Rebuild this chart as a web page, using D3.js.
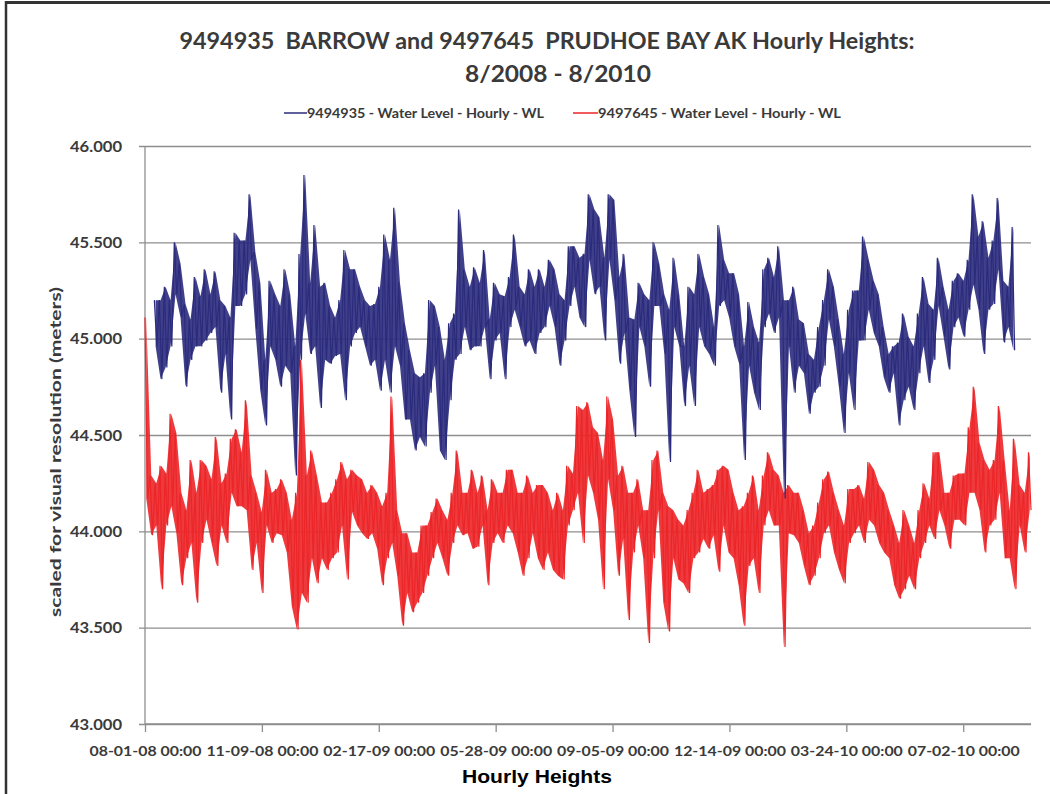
<!DOCTYPE html>
<html>
<head>
<meta charset="utf-8">
<script src="https://cdn.jsdelivr.net/npm/d3@7"></script>
<style>
  html, body { margin: 0; padding: 0; background: #fff; }
  svg { display: block; }
</style>
</head>
<body>
<svg id="chart" width="1050" height="794"></svg>
<script>
// ---------------- DATA ----------------
const titleLines = ["9494935  BARROW and 9497645  PRUDHOE BAY AK Hourly Heights:", "8/2008 - 8/2010"];
const seriesNames = ["9494935 - Water Level - Hourly - WL", "9497645 - Water Level - Hourly - WL"];
const xTickLabels = ["08-01-08 00:00", "11-09-08 00:00", "02-17-09 00:00", "05-28-09 00:00",
                     "09-05-09 00:00", "12-14-09 00:00", "03-24-10 00:00", "07-02-10 00:00"];
const yTickValues = [43.0, 43.5, 44.0, 44.5, 45.0, 45.5, 46.0];
const xAxisTitle = "Hourly Heights";
const yAxisTitle = "scaled for visual resolution (meters)";
const axisStart = "08-01-08 00:00";
const axisEnd = "08-29-10 00:00";

// 9494935 Barrow: per-interval high / low of the hourly heights
const blueStart = "08-09-08 00:00";
const blueEnd = "08-15-10 00:00";
const blueHigh = [
  45.20,45.20,45.27,45.20,45.50,45.39,45.18,45.10,45.32,45.22,45.36,45.23,45.35,45.20,45.17,45.11,45.55,45.51,45.51,45.75,45.45,45.29,44.89,45.30,45.23,45.17,45.36,45.23,44.96,
  45.44,45.85,45.29,45.59,45.27,45.29,45.17,45.11,45.20,45.46,45.36,45.36,45.27,45.20,45.17,45.18,45.27,45.54,45.41,45.68,45.29,45.08,44.94,44.82,44.80,44.82,45.20,45.17,45.06,44.89,
  45.08,45.13,45.67,45.36,45.27,45.37,45.29,45.46,45.10,45.29,45.23,45.22,45.32,45.54,45.27,45.23,45.36,45.27,45.36,45.27,45.41,45.36,45.23,45.20,45.48,45.48,45.42,45.44,45.75,45.67,
  45.63,45.42,45.75,45.72,45.32,45.44,45.11,45.10,45.29,45.23,45.20,45.50,45.39,45.23,45.15,45.42,45.23,44.96,45.27,45.23,45.44,45.32,45.23,45.06,45.59,45.41,45.34,45.34,45.23,44.96,
  45.19,45.06,44.98,45.36,45.42,45.32,45.48,45.20,45.20,45.27,45.10,45.08,44.92,44.89,45.06,45.20,45.36,45.27,45.10,44.92,45.15,45.25,45.25,45.53,45.41,45.30,45.23,45.06,44.92,44.96,
  44.98,45.13,45.01,44.96,45.13,45.32,45.18,45.15,45.42,45.27,45.15,45.30,45.34,45.30,45.41,45.75,45.53,45.61,45.42,45.51,45.73,45.30,45.27,45.58
];
const blueLow = [
  44.96,44.79,44.85,44.96,45.23,45.11,44.75,44.89,44.96,44.96,44.99,45.03,45.06,44.72,44.92,44.58,45.17,45.17,45.23,45.41,45.05,44.73,44.55,44.96,44.89,44.75,44.86,44.82,44.29,
  44.89,45.13,44.92,44.96,44.64,44.89,44.87,44.91,44.92,44.68,44.96,45.03,45.06,44.96,44.86,44.89,44.73,44.89,44.72,44.96,44.86,44.58,44.58,44.42,44.49,44.44,44.72,44.86,44.42,44.37,
  44.68,44.89,44.92,45.06,44.94,44.96,44.96,45.06,44.79,44.99,45.03,44.79,45.06,45.15,45.06,44.96,44.99,44.92,45.03,45.06,45.17,45.06,44.86,44.99,45.17,45.27,45.11,45.06,45.41,45.23,
  45.27,44.99,45.41,45.20,44.87,45.03,44.73,44.49,45.06,44.96,44.75,45.17,45.17,44.92,44.36,45.06,44.96,44.65,44.86,44.65,45.06,44.96,44.92,44.86,45.17,45.20,45.11,44.96,44.87,44.37,
  44.86,44.72,44.63,45.06,45.13,45.03,45.11,44.17,44.96,44.72,44.86,44.82,44.61,44.72,44.75,44.86,45.10,44.96,44.75,44.51,44.82,44.63,44.99,44.99,45.15,45.03,44.96,44.80,44.72,44.82,
  44.55,44.68,44.75,44.63,44.82,44.96,44.77,44.89,45.17,45.01,44.84,45.06,45.11,45.01,45.15,45.28,45.15,44.92,45.15,45.18,45.36,44.98,45.06,44.94
];

// 9497645 Prudhoe Bay: per-interval high / low of the hourly heights
const redStart = "08-01-08 00:00";
const redEnd = "08-29-10 00:00";
const redHigh = [
  45.11,44.29,44.25,44.34,44.30,44.61,44.51,44.20,44.11,44.37,44.20,44.37,44.34,44.27,44.49,44.25,44.30,44.48,44.53,44.41,44.68,44.29,44.20,44.10,44.32,44.20,44.22,44.27,44.20,44.06,
  44.20,44.89,44.29,44.42,44.29,44.15,44.15,44.20,44.27,44.36,44.27,44.32,44.29,44.27,44.20,44.24,44.20,44.13,44.20,44.70,44.11,43.99,43.99,43.89,43.89,44.03,44.03,44.10,44.17,44.11,
  44.06,44.20,44.42,44.20,44.20,44.32,44.20,44.29,44.11,44.27,44.20,44.20,44.32,44.32,44.20,44.20,44.29,44.20,44.24,44.24,44.20,44.11,44.20,44.11,44.34,44.30,44.65,44.63,44.67,44.54,
  44.51,44.37,44.70,44.58,44.29,44.34,44.20,44.20,44.27,44.11,44.11,44.37,44.42,44.20,44.13,44.11,44.06,44.03,44.11,44.20,44.32,44.20,44.22,44.24,44.32,44.34,44.32,44.20,44.11,44.13,
  44.20,44.29,44.11,44.29,44.41,44.32,44.29,44.20,44.24,44.20,44.20,44.11,43.99,44.03,44.15,44.27,44.31,44.20,44.11,44.03,44.22,44.22,44.24,44.17,44.36,44.32,44.24,44.20,44.11,44.03,
  43.94,44.11,44.03,43.94,44.11,44.25,44.17,44.41,44.41,44.20,44.20,44.29,44.30,44.30,44.54,44.75,44.46,44.37,44.32,44.37,44.65,44.37,44.11,44.48,44.24,44.20,44.41
];
const redLow = [
  44.17,43.98,44.03,43.70,44.03,44.13,43.99,43.72,43.86,43.94,43.63,43.94,44.06,43.94,43.82,44.03,43.94,44.20,44.13,44.13,44.11,43.80,43.94,43.68,44.03,43.94,43.99,43.98,43.89,43.61,
  43.49,43.68,43.63,43.86,43.73,43.86,43.80,43.86,43.89,44.03,43.75,44.10,44.03,43.99,43.96,43.99,43.91,43.72,43.86,43.94,43.77,43.51,43.68,43.58,43.63,43.68,43.77,43.86,43.94,43.86,
  43.77,43.94,44.03,43.98,43.99,43.91,43.92,44.03,43.72,43.94,43.99,43.94,44.03,43.99,43.89,43.77,43.86,43.99,43.86,43.80,43.89,43.80,43.77,43.75,44.03,44.11,44.20,43.94,44.29,44.20,
  44.06,43.70,44.27,44.11,43.77,43.96,43.54,43.89,44.03,43.86,43.42,43.86,44.11,43.63,43.48,43.86,43.75,43.73,43.68,43.86,43.89,43.96,43.91,43.98,43.79,44.03,43.89,43.86,43.72,43.51,
  43.82,43.86,43.68,44.03,44.11,44.03,44.03,43.40,43.99,43.98,43.94,43.82,43.72,43.77,43.86,43.99,44.03,43.89,43.80,43.73,43.94,43.99,44.03,43.94,44.06,44.03,43.94,43.89,43.86,43.72,
  43.65,43.70,43.77,43.70,43.86,43.94,44.03,43.96,44.11,44.03,43.91,44.06,44.06,44.03,44.20,44.20,44.11,43.89,44.03,44.06,44.20,43.86,43.86,43.70,44.03,43.89,44.11
];

// ---------------- DRAWING ----------------
const parse = d3.utcParse("%m-%d-%y %H:%M");
const svg = d3.select("#chart");
const plot = { left: 145, right: 1031, top: 146, bottom: 724 };

const x = d3.scaleUtc().domain([parse(axisStart), parse(axisEnd)]).range([plot.left, plot.right]);
const y = d3.scaleLinear().domain([43, 46]).range([plot.bottom, plot.top]);

const labelFont = "Lato, 'Open Sans', 'DejaVu Sans', sans-serif";
const textColor = "#3a3a3a";
const gridColor = "#8e8e8e";

// outer frame (top and left edges visible)
svg.append("line").attr("x1", 5).attr("x2", 1050).attr("y1", 2.5).attr("y2", 2.5)
  .attr("stroke", "#333").attr("stroke-width", 3);
svg.append("line").attr("x1", 6).attr("x2", 6).attr("y1", 1).attr("y2", 794)
  .attr("stroke", "#333").attr("stroke-width", 2.5);

// horizontal gridlines + y axis
const yAxis = d3.axisLeft(y).tickValues(yTickValues).tickFormat(d3.format(".3f"))
  .tickSize(-(plot.right - plot.left)).tickPadding(0);
const gy = svg.append("g").attr("transform", `translate(${plot.left},0)`).call(yAxis);
gy.select(".domain").remove();
gy.selectAll(".tick line").attr("stroke", gridColor).attr("stroke-width", 1.3).attr("x1", -6);
gy.selectAll(".tick text")
  .attr("x", -23).attr("dy", "0.35em")
  .attr("font-family", labelFont).attr("font-weight", "bold").attr("font-size", 15)
  .attr("fill", textColor).attr("text-anchor", "end")
  .attr("textLength", 52).attr("lengthAdjust", "spacingAndGlyphs");

// vertical axis line
svg.append("line").attr("x1", plot.left).attr("x2", plot.left)
  .attr("y1", plot.top).attr("y2", plot.bottom)
  .attr("stroke", gridColor).attr("stroke-width", 1.3);

// x axis
const xTicks = xTickLabels.map(parse);
const xAxis = d3.axisBottom(x).tickValues(xTicks)
  .tickFormat((d, i) => xTickLabels[i]).tickSize(8).tickSizeOuter(0);
const gx = svg.append("g").attr("transform", `translate(0,${plot.bottom})`).call(xAxis);
gx.select(".domain").attr("stroke", gridColor).attr("stroke-width", 1.3)
  .attr("d", `M${plot.left},0H${plot.right}`);
gx.selectAll(".tick line").attr("stroke", gridColor).attr("stroke-width", 1.3);
gx.selectAll(".tick text")
  .attr("y", 32).attr("dy", 0)
  .attr("font-family", labelFont).attr("font-weight", "bold").attr("font-size", 14)
  .attr("fill", textColor)
  .attr("textLength", 112).attr("lengthAdjust", "spacingAndGlyphs");

// series: each interval's high/low drawn as a dense band with the hourly zigzag on top
function build(high, low, start, end) {
  const t0 = parse(start).getTime(), t1 = parse(end).getTime();
  const n = high.length * 2 - 1;
  const zig = [], band = [];
  high.forEach((h, i) => {
    zig.push({ t: new Date(t0 + (t1 - t0) * (2 * i) / n), v: h });
    zig.push({ t: new Date(t0 + (t1 - t0) * (2 * i + 1) / n), v: low[i] });
    band.push({ t: new Date(t0 + (t1 - t0) * (2 * i + 0.5) / n), hi: h, lo: low[i] });
  });
  return { zig, band };
}
const line = d3.line().x(d => x(d.t)).y(d => y(d.v));
const area = d3.area().x(d => x(d.t)).y0(d => y(d.lo)).y1(d => y(d.hi));
const series = [
  { name: seriesNames[1], color: "#ec2528", ...build(redHigh, redLow, redStart, redEnd) },
  { name: seriesNames[0], color: "#2b2b7d", ...build(blueHigh, blueLow, blueStart, blueEnd) }
];
const sg = svg.append("g").selectAll("g").data(series).join("g");
sg.append("path")
  .attr("d", d => area(d.band))
  .attr("fill", d => d.color).attr("fill-opacity", 0.9).attr("stroke", "none");
sg.append("path")
  .attr("d", d => line(d.zig))
  .attr("fill", "none").attr("stroke", d => d.color).attr("stroke-width", 1.2);

// titles
const title = svg.append("g").attr("font-family", labelFont).attr("font-weight", "bold")
  .attr("fill", textColor).attr("text-anchor", "middle");
title.append("text").attr("x", 547).attr("y", 49).attr("font-size", 23)
  .style("white-space", "pre").attr("textLength", 735).attr("lengthAdjust", "spacingAndGlyphs")
  .text(titleLines[0]);
title.append("text").attr("x", 558).attr("y", 82).attr("font-size", 23)
  .attr("textLength", 186).attr("lengthAdjust", "spacingAndGlyphs")
  .text(titleLines[1]);

// legend
const legend = [
  { name: seriesNames[0], color: "#2b2b7d", x0: 284, x1: 307, tl: 237 },
  { name: seriesNames[1], color: "#ec2528", x0: 573, x1: 598, tl: 243 }
];
const lg = svg.append("g");
legend.forEach(l => {
  lg.append("line").attr("x1", l.x0).attr("x2", l.x1).attr("y1", 113).attr("y2", 113)
    .attr("stroke", l.color).attr("stroke-width", 1.5);
  lg.append("text").attr("x", l.x1).attr("y", 118)
    .attr("font-family", labelFont).attr("font-weight", "bold").attr("font-size", 13)
    .attr("fill", textColor).attr("textLength", l.tl).attr("lengthAdjust", "spacingAndGlyphs")
    .text(l.name);
});

// axis titles
svg.append("text").attr("x", 537).attr("y", 783).attr("text-anchor", "middle")
  .attr("font-family", "'Liberation Sans', Arial, sans-serif").attr("font-weight", "bold")
  .attr("font-size", 19).attr("fill", "#000")
  .attr("textLength", 150).attr("lengthAdjust", "spacingAndGlyphs")
  .text(xAxisTitle);
svg.append("text").attr("transform", "translate(61,452) rotate(-90)").attr("text-anchor", "middle")
  .attr("font-family", labelFont).attr("font-weight", "bold").attr("font-size", 15)
  .attr("fill", textColor).attr("textLength", 330).attr("lengthAdjust", "spacingAndGlyphs")
  .text(yAxisTitle);
</script>
</body>
</html>
